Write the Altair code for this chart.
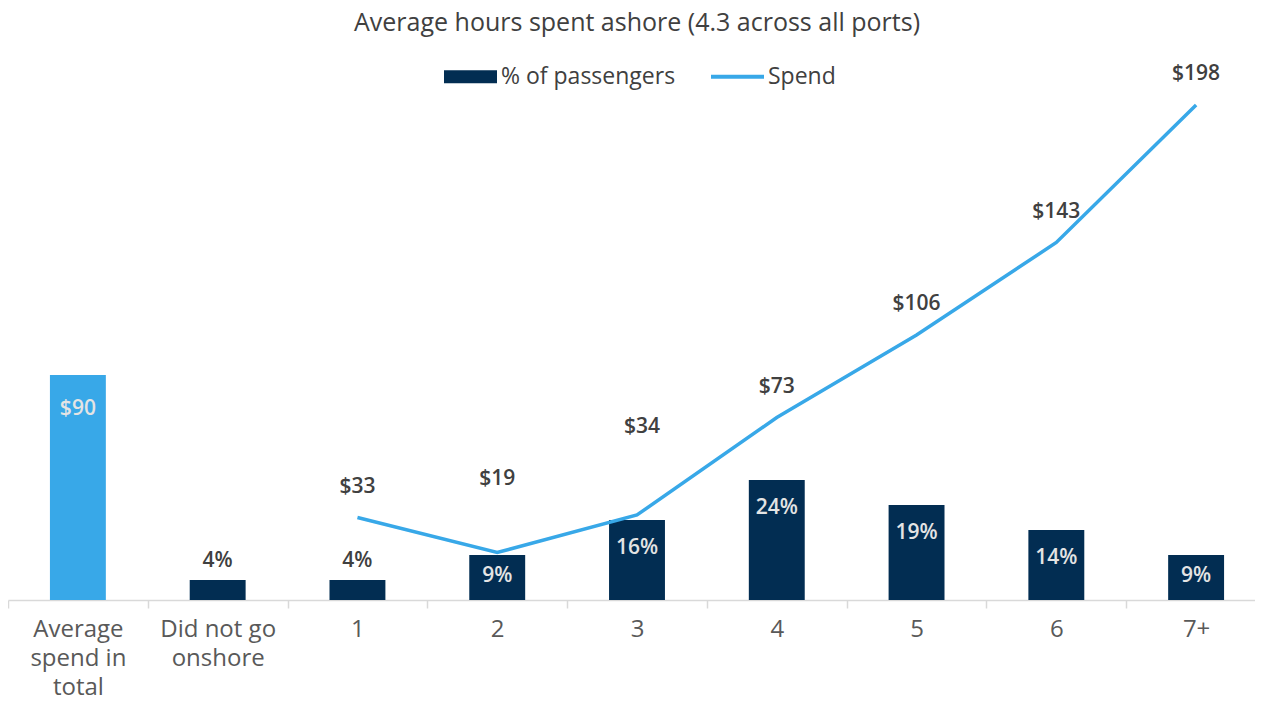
import altair as alt
import pandas as pd

categories = ["Average spend in total", "Did not go onshore", "1", "2", "3", "4", "5", "6", "7+"]
total_label = "Average spend in total"
total_spend = [90]
pct_cats = ["Did not go onshore", "1", "2", "3", "4", "5", "6", "7+"]
pct_values = [4, 4, 9, 16, 24, 19, 14, 9]
spend_cats = ["1", "2", "3", "4", "5", "6", "7+"]
spend_values = [33, 19, 34, 73, 106, 143, 198]
legend_items = ["% of passengers", "Spend"]

NAVY = "#022d52"
BLUE = "#38a8e8"
DARK = "#404040"
LIGHT = "#e4e4e4"
FONT = "Open Sans"
VFS = 21  # value label font size

df_total = pd.DataFrame({"cat": [total_label], "spend": total_spend})
df_pct = pd.DataFrame({"cat": pct_cats, "pct": pct_values})
df_spend = pd.DataFrame({"cat": spend_cats, "spend": spend_values})
df_leg = pd.DataFrame({"series": legend_items})

label_expr = ("datum.value == 'Average spend in total' ? ['Average', 'spend in', 'total'] : "
              "datum.value == 'Did not go onshore' ? ['Did not go', 'onshore'] : datum.value")

x = alt.X("cat:N", sort=categories,
          scale=alt.Scale(domain=categories, paddingInner=0, paddingOuter=0),
          axis=alt.Axis(title=None, labelExpr=label_expr, labelFontSize=24, labelFont=FONT,
                        labelColor="#595959", labelLineHeight=29, labelPadding=9,
                        tickBand="extent", tickSize=8, tickColor="#d9d9d9", tickWidth=1.5,
                        domainColor="#d9d9d9", domainWidth=1.5, labelOverlap=False,
                        labelLimit=400, labelAngle=0, grid=False))

y_spend = alt.Y("spend:Q", scale=alt.Scale(domain=[0, 200], nice=False, zero=True), axis=None)
y_pct = alt.Y("pct:Q", scale=alt.Scale(domain=[0, 100], nice=False, zero=True), axis=None)

total_bar = alt.Chart(df_total).mark_bar(color=BLUE, width=alt.RelativeBandSize(0.4)).encode(x=x, y=y_spend)
total_text = alt.Chart(df_total).mark_text(font=FONT, fontSize=VFS, fontWeight=600, color=LIGHT,
                                           baseline="middle", dy=34).encode(
    x=x, y=y_spend, text=alt.Text("spend:Q", format="$d"))

pct_bar = alt.Chart(df_pct).mark_bar(color=NAVY, width=alt.RelativeBandSize(0.4)).encode(x=x, y=y_pct)
pct_out = alt.Chart(df_pct).transform_filter("datum.pct < 5").transform_calculate(
    lbl="datum.pct + '%'").mark_text(font=FONT, fontSize=VFS, fontWeight=600, color=DARK,
                                      baseline="middle", dy=-19).encode(x=x, y=y_pct, text="lbl:N")
pct_in_big = alt.Chart(df_pct).transform_filter("datum.pct >= 12").transform_calculate(
    lbl="datum.pct + '%'").mark_text(font=FONT, fontSize=VFS, fontWeight=600, color=LIGHT,
                                      baseline="middle", dy=28).encode(x=x, y=y_pct, text="lbl:N")
pct_in_small = alt.Chart(df_pct).transform_filter("datum.pct >= 5 && datum.pct < 12").transform_calculate(
    lbl="datum.pct + '%'").mark_text(font=FONT, fontSize=VFS, fontWeight=600, color=LIGHT,
                                      baseline="middle", dy=21).encode(x=x, y=y_pct, text="lbl:N")

spend_line = alt.Chart(df_spend).mark_line(color=BLUE, strokeWidth=3.5).encode(x=x, y=y_spend)

def spend_labels(flt, dy, dx=0):
    return alt.Chart(df_spend).transform_filter(flt).mark_text(
        font=FONT, fontSize=VFS, fontWeight=600, color=DARK, baseline="middle", dy=dy, dx=dx).encode(
        x=x, y=y_spend, text=alt.Text("spend:Q", format="$d"))

lab_main = spend_labels("datum.cat != '2' && datum.cat != '3'", -31)
lab_2 = spend_labels("datum.cat == '2'", -74)
lab_3 = spend_labels("datum.cat == '3'", -88, 5)

leg = alt.Legend(orient="none", legendX=436, legendY=-50, direction="horizontal",
                 title=None, labelFontSize=23, labelFont=FONT, labelColor=DARK,
                 symbolSize=2809, columnPadding=35, labelOffset=4, labelLimit=400,
                 symbolStrokeWidth=0, padding=0)

legend_layer = alt.Chart(df_leg).transform_filter("false").mark_point(filled=True, opacity=1).encode(
    color=alt.Color("series:N", scale=alt.Scale(domain=legend_items, range=[NAVY, BLUE]), legend=leg),
    shape=alt.Shape("series:N", scale=alt.Scale(domain=legend_items,
                                                range=["M-1,-0.245H1V0.245H-1Z", "M-1,-0.075H1V0.075H-1Z"]),
                    legend=leg),
)

chart = alt.layer(
    total_bar, total_text, pct_bar, pct_out, pct_in_big, pct_in_small,
    spend_line, lab_main, lab_2, lab_3, legend_layer
).resolve_scale(y="independent").properties(
    width=1258, height=500,
    title=alt.TitleParams("Average hours spent ashore (4.3 across all ports)", anchor="middle",
                          fontSize=25, font=FONT, fontWeight="normal", color=DARK, offset=14),
    autosize=alt.AutoSizeParams(type="none"),
    padding={"left": 0, "top": 92, "right": -11, "bottom": 96},
).configure_view(stroke=None)

chart.save("out.html", embed_options={"renderer": "svg", "actions": False})
